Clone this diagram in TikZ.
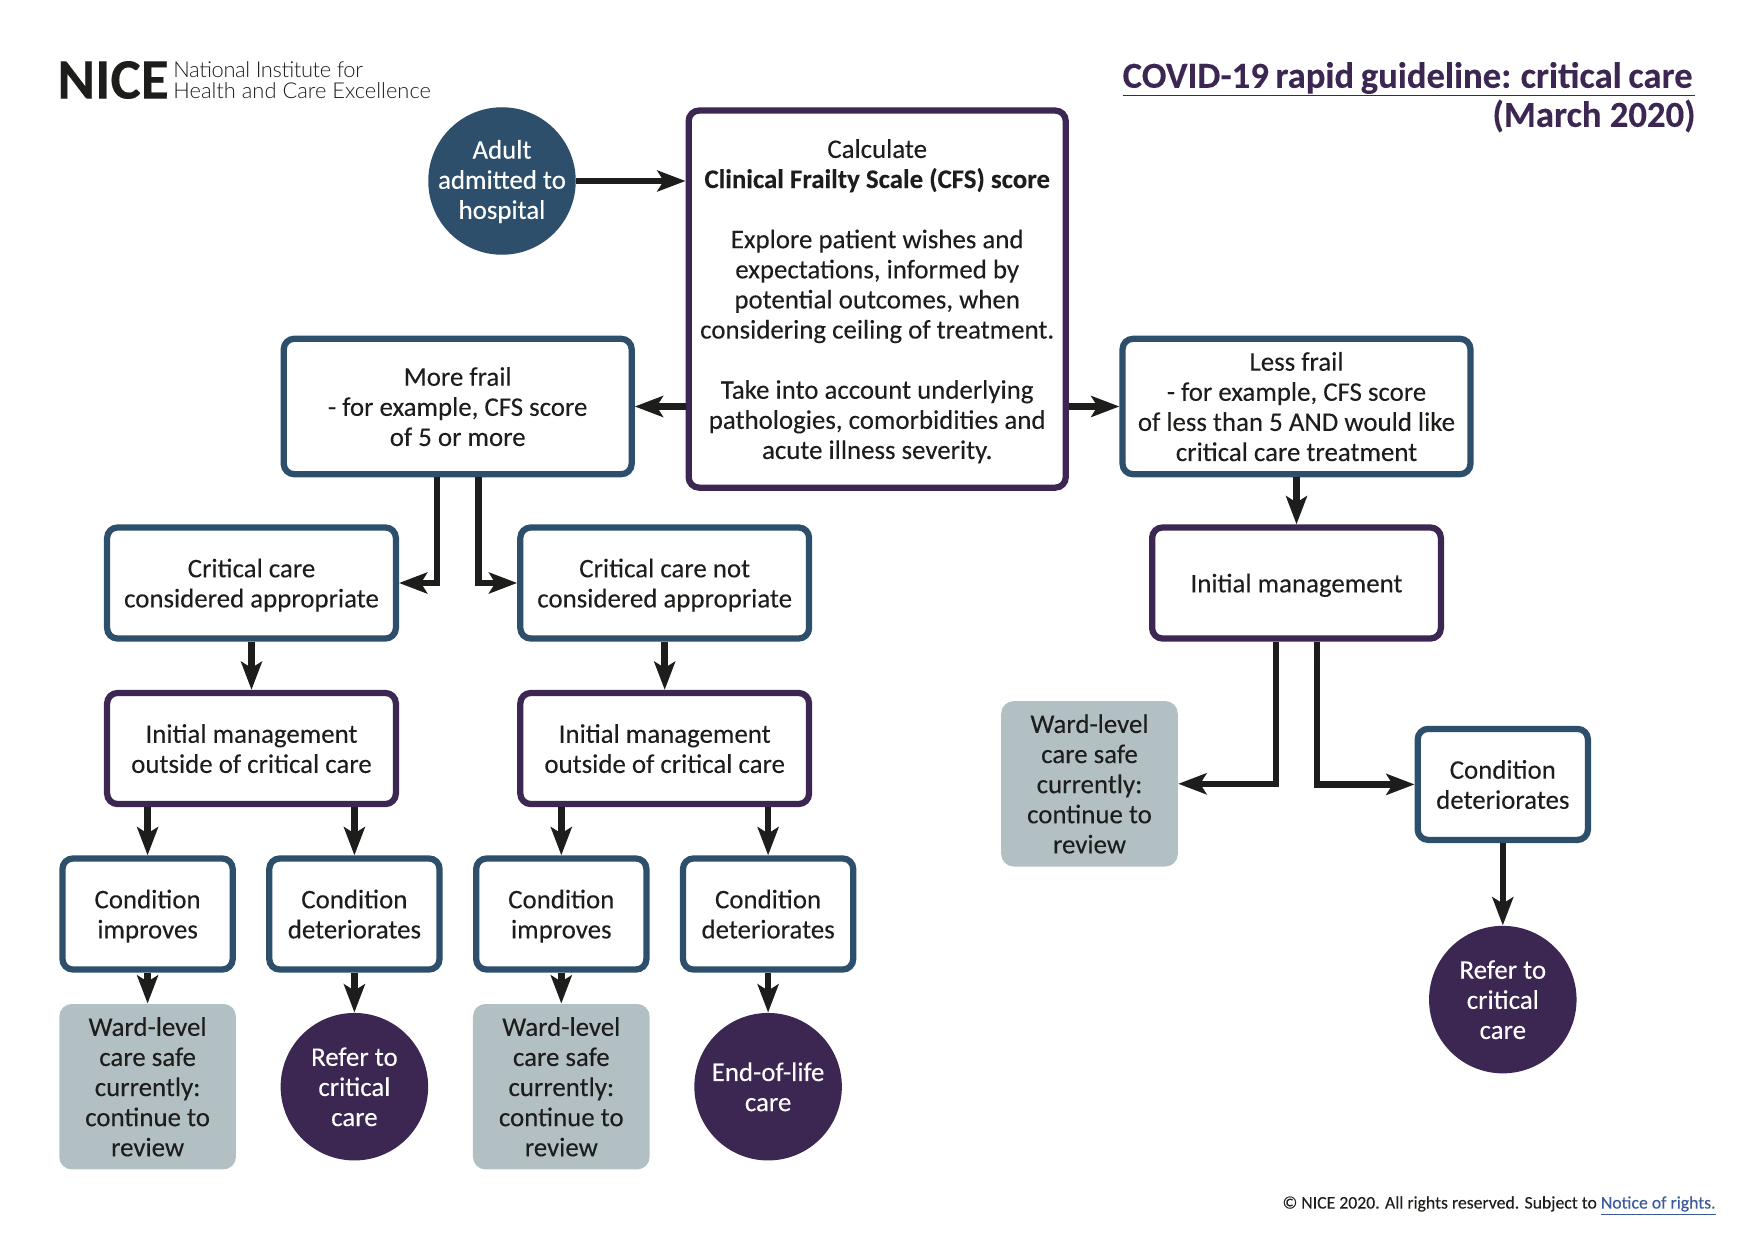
\documentclass[tikz,border=0pt]{standalone}
\usepackage{fontspec}
\setmainfont{Carlito}[FakeBold=0.12]
\newfontfamily\logofont{Lato Light}
\usetikzlibrary{arrows.meta}
\definecolor{nicepurple}{HTML}{3C2652}
\definecolor{niceblue}{HTML}{2D4F6C}
\definecolor{nicegrey}{HTML}{B2C0C4}
\definecolor{nicearrow}{HTML}{1D1D1B}
\definecolor{nicelink}{HTML}{3B5A9B}
\tikzset{
  boxtext/.style={align=center, inner sep=0pt, text depth=-1.5pt, font=\fontsize{12.9}{14.45}\selectfont},
  boxbase/.style={rectangle, rounded corners=5pt, line width=3pt, boxtext, fill=white, text=nicearrow},
  bluebox/.style={boxbase, draw=niceblue},
  purplebox/.style={boxbase, draw=nicepurple},
  wardbox/.style={rectangle, rounded corners=6pt, fill=nicegrey, boxtext, minimum width=84.8pt, minimum height=79.4pt, text=nicearrow},
  endcircle/.style={circle, fill=#1, boxtext, inner sep=-4pt, text depth=-3pt, text=white, minimum size=70.8pt},
  condbox/.style={bluebox, minimum width=81.7pt, minimum height=53.3pt},
  widebox/.style={text depth=-3pt, minimum width=138.6pt, minimum height=53.3pt},
  frailbox/.style={bluebox, minimum width=167pt, minimum height=65pt},
  titletext/.style={anchor=east, inner sep=0pt, text=nicepurple, font=\fontsize{17.6}{17.6}\bfseries\selectfont}
}
\begin{document}
\begin{tikzpicture}[x=0.48pt,y=-0.48pt]
  \useasboundingbox (0,0) rectangle (1753,1240);
  \draw
    (502,181) node[endcircle=niceblue, text depth=1.5pt] (adult){Adult\\admitted to\\hospital}
    (877.2,299.1) node[purplebox, text depth=-3.4pt, minimum width=181pt, minimum height=181pt] (calc){Calculate\\\textbf{Clinical Frailty Scale (CFS) score}\\ \\Explore patient wishes and\\expectations, informed by\\potential outcomes, when\\considering ceiling of treatment.\\ \\Take into account underlying\\pathologies, comorbidities and\\acute illness severity.}
    (457.7,406.5) node[frailbox] (more){More frail\\- for example, CFS score\\of 5 or more}
    (1296.5,406.5) node[frailbox] (less){Less frail\\- for example, CFS score\\of less than 5 AND would like\\critical care treatment}
    (251.5,583) node[bluebox, widebox] (appropriate){Critical care\\considered appropriate}
    (664.7,583) node[bluebox, widebox] (notappropriate){Critical care not\\considered appropriate}
    (1296.5,583) node[purplebox, widebox] (initright){Initial management}
    (251.5,748.5) node[purplebox, widebox] (initleft){Initial management\\outside of critical care}
    (664.7,748.5) node[purplebox, widebox] (initmid){Initial management\\outside of critical care}
    (147.6,914) node[condbox] (improveleft){Condition\\improves}
    (354.4,914) node[condbox] (worseleft){Condition\\deteriorates}
    (561.3,914) node[condbox] (improvemid){Condition\\improves}
    (768.1,914) node[condbox] (worsemid){Condition\\deteriorates}
    (1502.8,784.4) node[condbox] (worseright){Condition\\deteriorates}
    (147.6,1086.7) node[wardbox] (wardleft){Ward-level\\care safe\\currently:\\continue to\\review}
    (561.3,1086.7) node[wardbox] (wardmid){Ward-level\\care safe\\currently:\\continue to\\review}
    (1089.5,783.8) node[wardbox] (wardright){Ward-level\\care safe\\currently:\\continue to\\review}
    (354.4,1086.7) node[endcircle=nicepurple] (referleft){Refer to\\critical\\care}
    (768.1,1086.7) node[endcircle=nicepurple] (eol){End-of-life\\care}
    (1502.8,999.6) node[endcircle=nicepurple] (referright){Refer to\\critical\\care};
  \node[anchor=west, inner sep=0pt, text=nicearrow, font=\fontsize{27.5}{27.5}\bfseries\selectfont] (nice) at (57,80) {NICE};
  \node[anchor=west, align=left, inner sep=0pt, text=nicearrow, font=\fontsize{10.5}{10.3}\logofont] (institute) at (173,80) {\addfontfeature{LetterSpace=-1.7}National Institute for\\Health and Care Excellence};
  \node[titletext] (title) at (1693,78) {\spaceskip=.18em COVID-19 rapid guideline: critical care};
  \node[titletext] (date) at (1696,116) {(March 2020)};
  \node[anchor=east, inner sep=0pt, text=nicearrow, font=\fontsize{8.5}{10}\selectfont] (rights) at (1716,1206) {© NICE 2020. All rights reserved. Subject to \textcolor{nicelink}{\underline{Notice of rights.}}};
  \draw[nicepurple, line width=0.7pt] (1122.5,95.5) -- (1695,95.5);
  \begin{scope}[nicearrow, line width=3.1pt, -{Stealth[length=13.5pt,width=10pt,inset=3pt]}]
    \draw (adult) -- (calc.west |- adult);
    \draw (calc.west |- more) -- (more);
    \draw (calc.east |- less) -- (less);
    \draw ([xshift=-9.9pt]more.south) |- (appropriate);
    \draw ([xshift=9.9pt]more.south) |- (notappropriate);
    \draw (appropriate) -- (initleft);
    \draw (notappropriate) -- (initmid);
    \draw (improveleft |- initleft.south) -- (improveleft);
    \draw (worseleft |- initleft.south) -- (worseleft);
    \draw (improvemid |- initmid.south) -- (improvemid);
    \draw (worsemid |- initmid.south) -- (worsemid);
    \draw (improveleft) -- (wardleft);
    \draw (worseleft) -- (referleft);
    \draw (improvemid) -- (wardmid);
    \draw (worsemid) -- (eol);
    \draw (less) -- (initright);
    \draw ([xshift=-9.9pt]initright.south) |- (wardright);
    \draw ([xshift=9.9pt]initright.south) |- (worseright);
    \draw (worseright) -- (referright);
  \end{scope}
\end{tikzpicture}
\end{document}
